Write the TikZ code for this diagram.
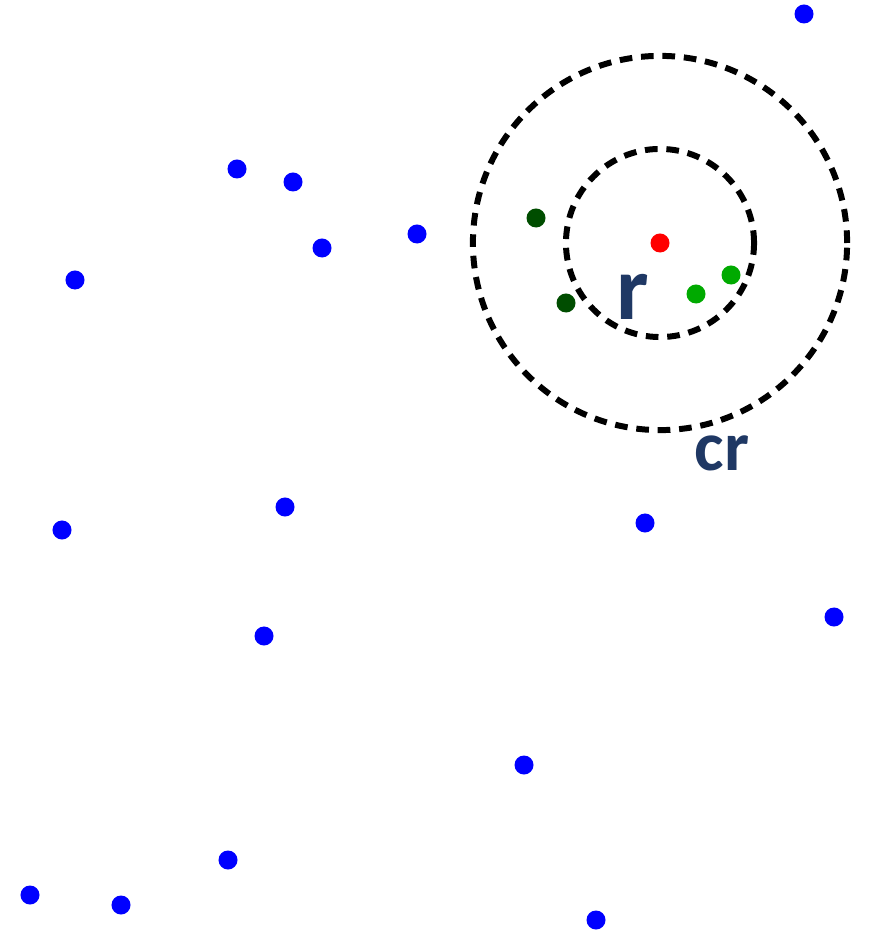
\documentclass[tikz,border=0pt]{standalone}
\usepackage{fontspec}
\setmainfont{Carlito}
\definecolor{labelblue}{RGB}{31,56,100}
\definecolor{darkpt}{RGB}{0,77,0}
\definecolor{lightpt}{RGB}{0,170,0}
\begin{document}
\begin{tikzpicture}[
  x=0.01cm, y=-0.01cm,
  pt/.style={circle, fill=blue, inner sep=0pt, minimum size=0.19cm},
  ring/.style={circle, draw, line width=1.7pt, dash pattern=on 3.6pt off 2.5pt,
               inner sep=0pt},
  lbl/.style={text=labelblue, font=\bfseries}
]
  \useasboundingbox (0,0) rectangle (872,931);

  % Kreise um den Anfragepunkt
  \node[pt, fill=red] (query) at (660,243) {};
  \node[ring, minimum size=1.88cm] (inner) at (query) {};
  \node[ring, minimum size=3.74cm] (outer) at (query) {};

  % Nachbarn
  \node[pt, fill=darkpt] (d1) at (536,218) {};
  \node[pt, fill=darkpt] (d2) at (566,303) {};
  \node[pt, fill=lightpt] (g1) at (696,294) {};
  \node[pt, fill=lightpt] (g2) at (731,275) {};

  % Beschriftung
  \node[lbl, font=\fontsize{26}{26}\bfseries\selectfont] (r) at (633,297) {r};
  \node[lbl, font=\fontsize{20}{20}\bfseries\selectfont] (cr) at (722,453) {cr};

  % restliche Punkte
  \foreach \px/\py [count=\i] in {804/14, 237/169, 293/182, 322/248, 417/234,
      75/280, 285/507, 62/530, 645/523, 834/617, 264/636, 524/765,
      228/860, 30/895, 121/905, 596/920} {
    \node[pt] (p\i) at (\px,\py) {};
  }
\end{tikzpicture}
\end{document}
